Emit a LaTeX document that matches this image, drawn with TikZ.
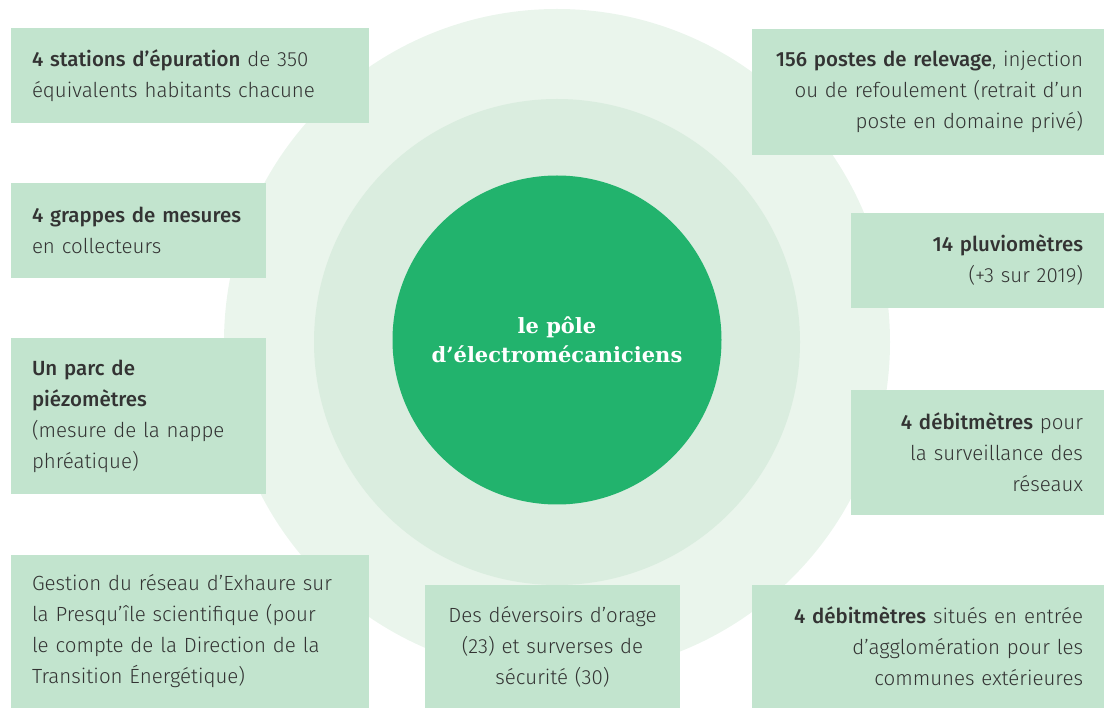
\documentclass[tikz,border=0pt]{standalone}
\usepackage{fontspec}
\setmainfont{Fira Sans}[UprightFont=* Light, BoldFont=* Medium]
\newfontfamily\polefont{DejaVu Serif}
\usepackage{xcolor}
\usetikzlibrary{positioning}
\definecolor{outerring}{HTML}{EAF5EC}
\definecolor{innerring}{HTML}{DAEDDF}
\definecolor{polegreen}{HTML}{22B36D}
\definecolor{boxgreen}{HTML}{C2E4CE}
\definecolor{textgray}{HTML}{333333}
\tikzset{
	infobox/.style={fill=boxgreen, text=textgray, inner xsep=21pt, inner ysep=0pt, font=\fontsize{20.5}{31}\selectfont},
	leftbox/.style={infobox, align=left},
	rightbox/.style={infobox, align=right},
	midbox/.style={infobox, align=center}
}

\begin{document}
\begin{tikzpicture}[x=1pt,y=-1pt]
		\useasboundingbox (0,0) rectangle (1104,708);
		\begin{scope}
		\fill[outerring] (557,342) circle (333pt);
		\fill[innerring] (557,342) circle (243pt);
		\end{scope}
		\node[circle, fill=polegreen, minimum size=329pt, inner sep=0pt, text=white, align=center, font=\polefont\bfseries\fontsize{21}{29}\selectfont] (pole) at (557,340) {le pôle\\d’électromécaniciens};
		% left column
		\node[leftbox, text width=316pt, minimum height=95pt] (stations) at (190,75.5) {\textbf{4 stations d’épuration} de 350\\équivalents habitants chacune};
		\node[leftbox, text width=213pt, minimum height=95pt] (grappes) at (138.5,230.5) {\textbf{4 grappes de mesures}\\en collecteurs};
		\node[leftbox, text width=213pt, minimum height=156pt] (parc) at (138.5,416) {\textbf{Un parc de}\\\textbf{piézomètres}\\(mesure de la nappe\\phréatique)};
		\node[leftbox, text width=316pt, minimum height=153pt] (exhaure) at (190,631.5) {Gestion du réseau d’Exhaure sur\\la Presqu’île scientifique (pour\\le compte de la Direction de la\\Transition Énergétique)};
		% bottom
		\node[midbox, text width=213pt, minimum height=123pt] (deversoirs) at (552.5,646.5) {Des déversoirs d’orage\\(23) et surverses de\\sécurité (30)};
		% right column
		\node[rightbox, text width=310pt, minimum height=126pt] (postes) at (928,92) {\textbf{156 postes de relevage}, injection\\ou de refoulement (retrait d’un\\poste en domaine privé)};
		\node[rightbox, text width=211pt, minimum height=95pt] (pluvio) at (977.5,260.5) {\textbf{14 pluviomètres}\\(+3 sur 2019)};
		\node[rightbox, text width=211pt, minimum height=125pt] (debitreseau) at (977.5,452.5) {\textbf{4 débitmètres} pour\\la surveillance des\\réseaux};
		\node[rightbox, text width=310pt, minimum height=123pt] (debitentree) at (928,646.5) {\textbf{4 débitmètres} situés en entrée\\d’agglomération pour les\\communes extérieures};
		\end{tikzpicture}
\end{document}
